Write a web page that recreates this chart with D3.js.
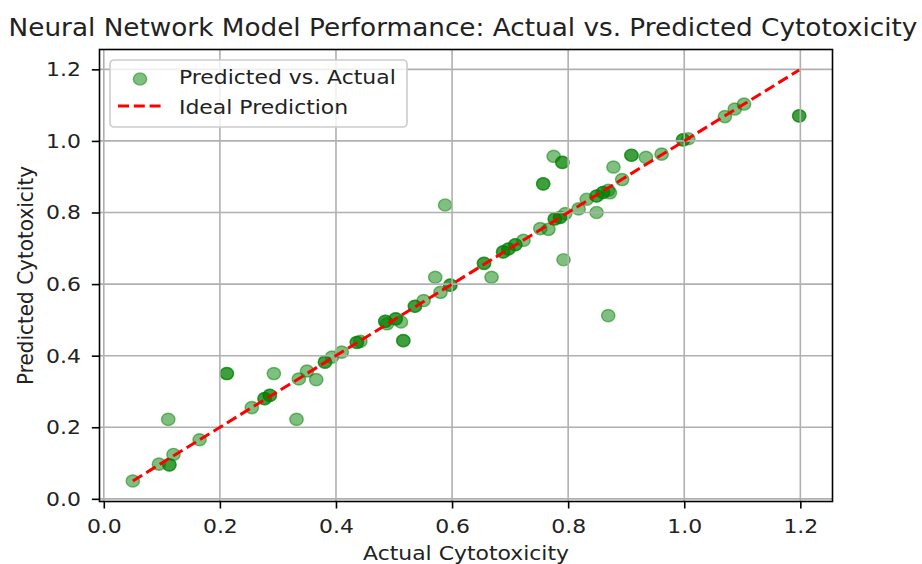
<!DOCTYPE html>
<html>
<head>
<meta charset="utf-8">
<script src="https://cdn.jsdelivr.net/npm/d3@7"></script>
<style>
  body { margin: 0; background: #fff; }
  text { font-family: "DejaVu Sans", sans-serif; fill: #222; }
</style>
</head>
<body>
<div id="chart"></div>
<script>
// Actual vs. predicted cytotoxicity
const actual = [
  0.05, 0.095, 0.113, 0.113, 0.12, 0.111, 0.165, 0.212, 0.212, 0.255,
  0.277, 0.277, 0.286, 0.286, 0.293, 0.332, 0.336, 0.35, 0.366, 0.381,
  0.381, 0.393, 0.41, 0.436, 0.436, 0.442, 0.485, 0.485, 0.488, 0.503,
  0.503, 0.512, 0.516, 0.516, 0.536, 0.536, 0.551, 0.571, 0.58, 0.597,
  0.597, 0.588, 0.655, 0.655, 0.668, 0.688, 0.688, 0.697, 0.697, 0.709,
  0.709, 0.723, 0.752, 0.766, 0.777, 0.777, 0.786, 0.786, 0.792, 0.795,
  0.775, 0.79, 0.79, 0.757, 0.757, 0.818, 0.832, 0.849, 0.849, 0.849,
  0.86, 0.86, 0.869, 0.872, 0.869, 0.878, 0.893, 0.909, 0.909, 0.934,
  0.961, 0.998, 0.998, 1.007, 1.07, 1.087, 1.103, 1.198, 1.198
];
const predicted = [
  0.05, 0.097, 0.095, 0.095, 0.124, 0.222, 0.165, 0.35, 0.35, 0.255,
  0.28, 0.28, 0.289, 0.289, 0.35, 0.222, 0.335, 0.357, 0.333, 0.382,
  0.382, 0.396, 0.41, 0.437, 0.437, 0.44, 0.496, 0.496, 0.489, 0.503,
  0.503, 0.494, 0.442, 0.442, 0.538, 0.538, 0.554, 0.619, 0.577, 0.597,
  0.597, 0.821, 0.658, 0.658, 0.619, 0.69, 0.69, 0.698, 0.698, 0.71,
  0.71, 0.722, 0.755, 0.753, 0.782, 0.782, 0.786, 0.786, 0.668, 0.797,
  0.957, 0.94, 0.94, 0.88, 0.88, 0.81, 0.837, 0.8, 0.846, 0.846,
  0.856, 0.856, 0.862, 0.855, 0.512, 0.927, 0.892, 0.96, 0.96, 0.954,
  0.963, 1.003, 1.003, 1.006, 1.068, 1.089, 1.103, 1.07, 1.07
];
const xTicks = [0.0, 0.2, 0.4, 0.6, 0.8, 1.0, 1.2];
const yTicks = [0.0, 0.2, 0.4, 0.6, 0.8, 1.0, 1.2];

const width = 922, height = 564;
const margin = { top: 49.5, right: 89.5, bottom: 62.5, left: 99.5 };
// the picture is a bit wider than it is tall, so text and markers are stretched in x
const sx = 1.096;

const svg = d3.select("#chart").append("svg")
  .attr("width", width)
  .attr("height", height);

// ideal line runs from min to max of the actual values
const lo = d3.min(actual), hi = d3.max(actual);
const ideal = [lo, hi];

// 5% padding like matplotlib autoscale
const pad = (ext) => {
  const m = (ext[1] - ext[0]) * 0.05;
  return [ext[0] - m, ext[1] + m];
};
const x = d3.scaleLinear()
  .domain(pad(d3.extent(actual.concat(ideal))))
  .range([margin.left, width - margin.right]);
const y = d3.scaleLinear()
  .domain(pad(d3.extent(predicted.concat(ideal))))
  .range([height - margin.bottom, margin.top]);

const plot = svg.append("g");

const marker = (sel) => sel
  .attr("rx", 6.1 * sx)
  .attr("ry", 6.1)
  .attr("fill", "green")
  .attr("fill-opacity", 0.5)
  .attr("stroke", "green")
  .attr("stroke-opacity", 0.5)
  .attr("stroke-width", 1.4);

// points
const pts = actual.map((a, i) => ({ a: a, p: predicted[i] }));
plot.append("g")
  .selectAll("ellipse")
  .data(pts)
  .enter().append("ellipse")
  .attr("cx", d => x(d.a))
  .attr("cy", d => y(d.p))
  .call(marker);

// grid (drawn over the collection, under the line)
const grid = plot.append("g").attr("stroke", "#b0b0b0").attr("stroke-width", 1.6);
grid.selectAll(".gx").data(xTicks).enter().append("line")
  .attr("x1", d => x(d)).attr("x2", d => x(d))
  .attr("y1", margin.top).attr("y2", height - margin.bottom);
grid.selectAll(".gy").data(yTicks).enter().append("line")
  .attr("y1", d => y(d)).attr("y2", d => y(d))
  .attr("x1", margin.left).attr("x2", width - margin.right);

// ideal prediction line
plot.append("line")
  .attr("x1", x(ideal[0])).attr("y1", y(ideal[0]))
  .attr("x2", x(ideal[1])).attr("y2", y(ideal[1]))
  .attr("stroke", "red")
  .attr("stroke-width", 3)
  .attr("stroke-dasharray", "11,4.8");

// frame
svg.append("rect")
  .attr("x", margin.left).attr("y", margin.top)
  .attr("width", width - margin.left - margin.right)
  .attr("height", height - margin.top - margin.bottom)
  .attr("fill", "none")
  .attr("stroke", "#000")
  .attr("stroke-width", 1.6);

// axes
const xAxis = d3.axisBottom(x).tickValues(xTicks).tickFormat(d3.format(".1f"))
  .tickSize(7).tickPadding(10);
const yAxis = d3.axisLeft(y).tickValues(yTicks).tickFormat(d3.format(".1f"))
  .tickSize(7 * sx).tickPadding(11);

const gx = svg.append("g")
  .attr("transform", `translate(0,${height - margin.bottom})`)
  .call(xAxis);
const gy = svg.append("g")
  .attr("transform", `translate(${margin.left},0)`)
  .call(yAxis);
[gx, gy].forEach(g => {
  g.select(".domain").remove();
  g.selectAll(".tick line").attr("stroke", "#000").attr("stroke-width", 1.6);
  g.selectAll(".tick text")
    .style("font-family", "DejaVu Sans")
    .style("font-size", "20px")
    .attr("fill", "#222")
    .each(function() {
      const t = d3.select(this);
      const tx = +t.attr("x") || 0;
      t.attr("x", 0).attr("transform", `translate(${tx},0) scale(${sx},1)`);
    });
});

// labels
const label = (tx, ty, size, str, rot) => svg.append("text")
  .attr("transform", `translate(${tx},${ty}) scale(${sx},1)` + (rot ? ` rotate(${rot})` : ""))
  .attr("text-anchor", "middle")
  .style("font-size", size + "px")
  .text(str);

label(463, 36, 24, "Neural Network Model Performance: Actual vs. Predicted Cytotoxicity");
label(466, 560, 20, "Actual Cytotoxicity");
label(33, (margin.top + height - margin.bottom) / 2, 20, "Predicted Cytotoxicity", -90);

// legend
const legend = svg.append("g").attr("transform", "translate(110,60)");
legend.append("rect")
  .attr("width", 297).attr("height", 67)
  .attr("rx", 4)
  .attr("fill", "#fff").attr("fill-opacity", 0.8)
  .attr("stroke", "#cccccc").attr("stroke-width", 1.6);
legend.append("ellipse")
  .attr("cx", 30).attr("cy", 19)
  .call(marker);
legend.append("line")
  .attr("x1", 8).attr("x2", 52).attr("y1", 46).attr("y2", 46)
  .attr("stroke", "red").attr("stroke-width", 3)
  .attr("stroke-dasharray", "11,4.8");
legend.append("text")
  .attr("transform", `translate(69,24) scale(${sx},1)`)
  .style("font-size", "20px").text("Predicted vs. Actual");
legend.append("text")
  .attr("transform", `translate(69,53.5) scale(${sx},1)`)
  .style("font-size", "20px").text("Ideal Prediction");
</script>
</body>
</html>
